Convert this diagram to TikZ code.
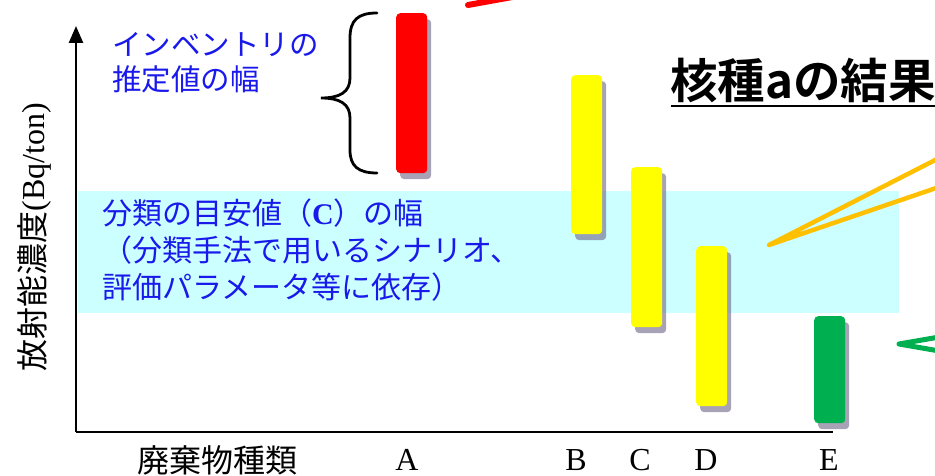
\documentclass[tikz,border=0pt]{standalone}
\usepackage{fontspec}
\setmainfont{Liberation Serif}
\newfontfamily\cjk{Noto Sans CJK JP}[BoldFont={Noto Sans CJK JP Bold}]
\usetikzlibrary{arrows.meta,shadows}
\definecolor{bandcyan}{RGB}{204,255,255}
\definecolor{txtblue}{RGB}{25,25,235}
\definecolor{barred}{RGB}{255,0,0}
\definecolor{baryellow}{RGB}{255,255,0}
\definecolor{bargreen}{RGB}{0,176,80}
\definecolor{shadowc}{RGB}{110,100,135}
\definecolor{callorange}{RGB}{255,192,0}
\tikzset{
  bar/.style={rounded corners=4pt, inner sep=0pt, anchor=north west, minimum width=31pt,
    drop shadow={shadow xshift=4pt, shadow yshift=-6pt, fill=shadowc, opacity=0.6}},
  cat/.style={anchor=base, font=\fontsize{32}{38}\selectfont, inner sep=0pt},
  bluetxt/.style={text=txtblue, align=left, inner sep=0pt, font=\cjk\fontsize{30}{37}\selectfont},
  callout/.style={line width=4.5pt, line join=round, line cap=round},
  axis/.style={line width=2.5pt}
}
\begin{document}
\begin{tikzpicture}[x=1pt,y=-1pt]
\useasboundingbox (0,0) rectangle (935,476);
\clip (0,0) rectangle (935,476);
% cyan band
\node[name=band, fill=bandcyan, anchor=north west, inner sep=0pt, minimum width=821pt, minimum height=122pt] at (78,191) {};
% axes
\coordinate (origin) at (76,432);
\coordinate (ytop) at (76,26);
\coordinate (xend) at (833,432);
\draw[axis, -{Triangle[width=14pt,length=17pt]}] (origin) -- (ytop);
\draw[axis] (origin) -- (xend);
% bars
\node[bar, name=barA, fill=barred, minimum height=160pt] at (396,13) {};
\node[bar, name=barB, fill=baryellow, minimum height=159pt] at (571,75) {};
\node[bar, name=barC, fill=baryellow, minimum height=160pt] at (631,167) {};
\node[bar, name=barD, fill=baryellow, minimum height=160pt] at (696,246) {};
\node[bar, name=barE, fill=bargreen, minimum height=107pt] at (814,316) {};
% category labels
\node[cat, name=labA] at (407,470) {A};
\node[cat, name=labB] at (576,470) {B};
\node[cat, name=labC] at (640,470) {C};
\node[cat, name=labD] at (706,470) {D};
\node[cat, name=labE] at (829,470) {E};
\node[cat, name=xlab, font=\cjk\fontsize{32}{38}\selectfont] at (217,472) {廃棄物種類};
% y label
\node[name=ylab, rotate=90, inner sep=0pt, font=\fontsize{32}{38}\selectfont] at (34,237) {{\cjk 放射能濃度}(Bq/ton)};
% brace
\draw[line width=2.8pt, line cap=round] (377,13) .. controls (358,13) and (350,20) .. (350,38) -- (350,78)
  .. controls (350,92) and (340,98) .. (321,98)
  .. controls (340,98) and (350,104) .. (350,118) -- (350,150)
  .. controls (350,166) and (358,173) .. (377,173);
% blue texts
\node[bluetxt, name=invtxt, anchor=north west, font=\cjk\fontsize{29.5}{35}\selectfont] at (112,32) {インベントリの\\推定値の幅};
\node[bluetxt, name=bandtxt, anchor=north west] at (102,199) {分類の目安値（{\rmfamily\bfseries C}）の幅\\（分類手法で用いるシナリオ、\\評価パラメータ等に依存）};
% title
\node[name=title, anchor=base west, inner sep=0pt, font=\cjk\bfseries\fontsize{47.5}{52}\selectfont] at (670,99) {核種aの結果};
\coordinate (ulA) at (671,106);
\coordinate (ulB) at (940,106);
\draw[line width=2.5pt] (ulA) -- (ulB);
% callout wedges
\coordinate (o1) at (945,155);
\coordinate (otip) at (769,245);
\coordinate (o2) at (945,185);
\draw[callout, callorange] (o1) -- (otip) -- (o2);
\coordinate (g1) at (945,336);
\coordinate (gtip) at (899,344);
\coordinate (g2) at (945,352);
\draw[callout, bargreen, line width=5pt] (g1) -- (gtip) -- (g2);
\coordinate (r1) at (468,5);
\coordinate (r2) at (540,-8);
\draw[callout, barred, line width=6pt] (r1) -- (r2);
\end{tikzpicture}
\end{document}
